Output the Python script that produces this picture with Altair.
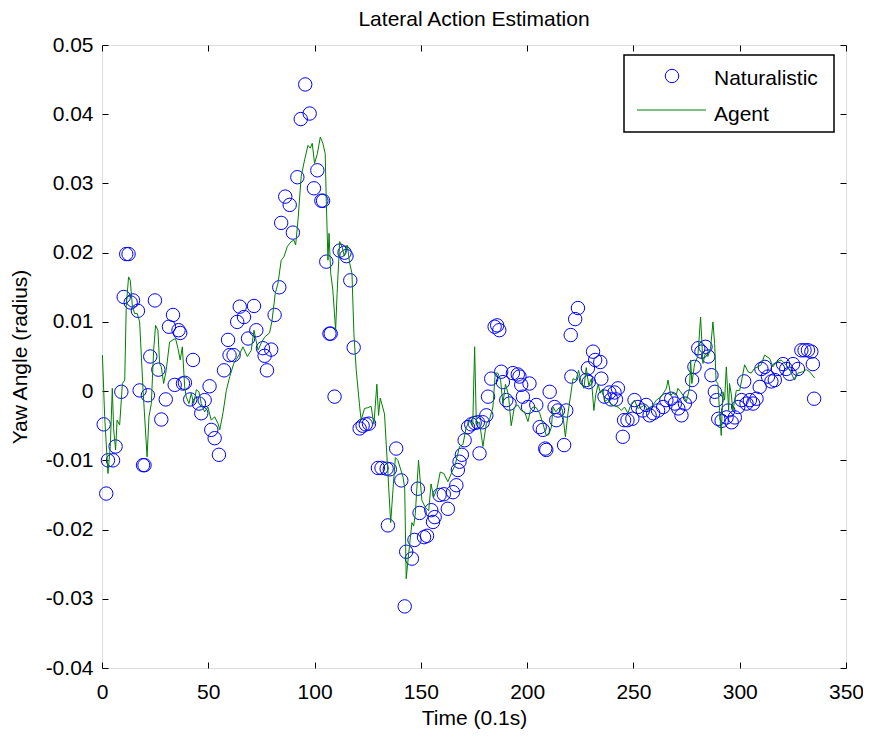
import altair as alt
import pandas as pd

# ---------------- data ----------------
nat_t = [0.8, 2.0, 2.8, 5.2, 6.4, 9.1, 10.2, 11.4, 12.5, 13.5, 14.6, 16.9, 17.7, 19.3, 20.0,
         21.6, 22.7, 24.9, 26.5, 27.9, 30.0, 31.5, 33.4, 34.2, 36.0, 36.8, 38.1, 39.0, 41.5,
         42.8, 45.6, 46.7, 48.3, 50.6, 51.4, 53.0, 55.0, 57.4, 59.3, 60.0, 61.9, 63.6, 64.8,
         66.8, 68.7, 71.5, 72.6, 75.7, 76.5, 77.6, 79.6, 81.2, 83.4, 84.3, 86.2, 88.3, 89.8,
         91.9, 93.5, 95.6, 97.7, 99.7, 101.3, 103.2, 104.0, 105.5, 107.0, 107.6, 109.4, 111.8,
         114.1, 115.0, 116.8, 118.4, 121.2, 122.6, 124.1, 125.6, 129.8, 131.5, 133.9, 134.5,
         135.4, 138.4, 140.8, 142.4, 143.1, 145.8, 147.0, 148.6, 149.4, 151.5, 152.9, 154.9,
         155.7, 156.5, 158.8, 160.8, 162.7, 165.1, 166.7, 167.4, 168.2, 169.3, 170.6, 172.2,
         173.7, 175.3, 176.8, 177.6, 179.1, 180.8, 181.6, 183.1, 184.7, 185.9, 186.9, 187.8,
         188.6, 190.2, 191.7, 193.3, 195.6, 196.4, 197.2, 198.0, 200.4, 201.1, 204.3, 205.9,
         207.4, 208.5, 209.0, 210.6, 212.9, 213.7, 214.5, 217.4, 218.4, 220.8, 220.5, 222.6,
         223.9, 227.8, 228.6, 229.0, 231.0, 232.0, 234.4, 234.9, 236.4, 238.7, 239.5, 241.1,
         241.8, 242.7, 245.0, 245.6, 247.2, 249.5, 250.5, 252.1, 254.4, 256.0, 257.6, 259.3,
         261.6, 264.0, 265.5, 267.8, 269.5, 271.1, 272.6, 274.2, 276.6, 277.6, 278.7, 280.5,
         282.0, 283.9, 285.2, 286.7, 288.3, 289.1, 289.9, 291.5, 293.8, 294.6, 296.2, 297.7,
         299.3, 300.9, 302.1, 303.2, 304.8, 306.3, 307.9, 309.4, 310.2, 311.8, 313.3, 314.9,
         316.5, 318.0, 320.4, 321.9, 323.5, 325.1, 327.4, 329.0, 330.5, 332.1, 333.7, 334.4,
         335.0]
nat_y = [-0.0048, -0.0148, -0.0100, -0.0100, -0.0080, -0.0001, 0.0136, 0.0198, 0.0198, 0.0128,
         0.0131, 0.0116, 0.0001, -0.0107, -0.0107, -0.0006, 0.0050, 0.0131, 0.0031, -0.0041,
         -0.0012, 0.0093, 0.0110, 0.0009, 0.0088, 0.0084, 0.0011, 0.0012, -0.0012, 0.0045,
         -0.0018, -0.0032, -0.0013, 0.0007, -0.0056, -0.0068, -0.0092, 0.0030, 0.0074, 0.0052,
         0.0052, 0.0100, 0.0122, 0.0107, 0.0076, 0.0123, 0.0088, 0.0062, 0.0051, 0.0030,
         0.0060, 0.0110, 0.0150, 0.0243, 0.0281, 0.0269, 0.0229, 0.0309, 0.0393, 0.0443,
         0.0401, 0.0293, 0.0319, 0.0275, 0.0275, 0.0187, 0.0083, 0.0083, -0.0008, 0.0203,
         0.0200, 0.0195, 0.0160, 0.0063, -0.0054, -0.0050, -0.0048, -0.0047, -0.0111, -0.0111,
         -0.0112, -0.0194, -0.0113, -0.0083, -0.0129, -0.0311, -0.0232, -0.0242, -0.0215,
         -0.0141, -0.0176, -0.0211, -0.0209, -0.0172, -0.0189, -0.0182, -0.0150, -0.0149,
         -0.0170, -0.0146, -0.0136, -0.0114, -0.0102, -0.0092, -0.0071, -0.0052, -0.0048,
         -0.0046, -0.0045, -0.0090, -0.0045, -0.0035, -0.0008, 0.0018, 0.0093, 0.0095, 0.0088,
         0.0028, 0.0013, -0.0013, -0.0018, 0.0026, 0.0024, 0.0021, 0.0009, -0.0008, -0.0023,
         0.0011, -0.0020, -0.0052, -0.0056, -0.0083, -0.0085, -0.0001, -0.0023, -0.0042,
         -0.0028, -0.0078, -0.0028, 0.0021, 0.0081, 0.0104, 0.0120, 0.0016, 0.0033, 0.0013,
         0.0057, 0.0045, 0.0042, 0.0018, -0.0008, -0.0002, -0.0012, -0.0002, -0.0012, 0.0004,
         -0.0066, -0.0042, -0.0042, -0.0040, -0.0013, -0.0023, -0.0028, -0.0020, -0.0035,
         -0.0032, -0.0028, -0.0023, -0.0013, -0.0011, -0.0018, -0.0025, -0.0035, -0.0018,
         -0.0008, 0.0016, 0.0035, 0.0062, 0.0057, 0.0064, 0.0050, 0.0023, -0.0001, -0.0013,
         -0.0040, -0.0043, -0.0038, -0.0028, -0.0045, -0.0038, -0.0023, -0.0013, 0.0014,
         -0.0018, -0.0013, -0.0018, -0.0011, 0.0006, 0.0032, 0.0035, 0.0021, 0.0014, 0.0016,
         0.0032, 0.0039, 0.0032, 0.0025, 0.0039, 0.0032, 0.0059, 0.0059, 0.0059, 0.0057,
         0.0039, -0.0011]

agent_t = [0.2, 1.25, 2.8, 3.9, 4.85, 5.5, 6.4, 7.1, 8.3, 9.6, 10.7, 11.4, 12.5, 13.3, 14.3,
           15.4, 16.6, 17.7, 19.3, 21.2, 22.1, 23.2, 24.3, 25.2, 26.3, 27.1, 27.9, 29.0, 30.2,
           31.8, 33.4, 34.6, 35.7, 36.8, 37.8, 38.9, 39.6, 40.9, 42.0, 43.1, 44.4, 45.6, 46.7,
           48.3, 49.8, 51.4, 53.0, 54.6, 55.4, 57.0, 58.5, 60.1, 62.0, 64.8, 66.3, 68.4, 70.2,
           71.5, 73.4, 75.0, 76.5, 78.8, 79.9, 81.5, 82.8, 84.3, 85.6, 87.2, 89.0, 90.3, 91.1,
           92.2, 93.7, 95.3, 96.9, 98.0, 98.9, 100.0, 101.3, 102.7, 103.9, 105.0, 105.5, 106.3,
           106.8, 107.6, 108.6, 109.9, 110.6, 111.8, 112.9, 114.0, 115.4, 116.5, 117.6, 118.5,
           119.6, 121.2, 121.9, 123.5, 125.0, 126.6, 127.9, 129.3, 130.1, 130.9, 132.9, 134.5,
           135.8, 136.9, 138.0, 139.2, 141.6, 142.4, 143.1, 144.6, 145.8, 146.6, 147.4, 148.9,
           150.5, 152.1, 153.7, 154.8, 156.0, 157.6, 159.1, 160.8, 162.7, 165.0, 166.1, 168.2,
           169.8, 171.3, 172.9, 174.4, 175.3, 176.1, 177.6, 179.2, 180.8, 182.4, 183.9, 185.0,
           186.2, 187.5, 188.6, 189.8, 191.2, 192.5, 194.0, 195.6, 197.2, 198.8, 200.4, 201.5,
           202.7, 204.3, 205.9, 207.4, 209.0, 210.2, 211.4, 212.2, 213.5, 215.0, 216.5, 218.0,
           219.2, 221.6, 223.0, 224.2, 225.5, 226.7, 227.8, 229.0, 230.2, 231.4, 232.3, 233.4,
           234.5, 235.5, 236.4, 238.0, 239.6, 241.1, 242.7, 244.3, 245.8, 247.4, 249.0, 250.5,
           252.1, 253.7, 255.3, 256.8, 258.4, 260.8, 263.1, 265.5, 266.3, 267.5, 268.6, 270.1,
           270.9, 272.2, 273.3, 274.9, 276.4, 276.9, 277.5, 278.8, 280.3, 281.6, 282.7, 283.8,
           285.0, 286.3, 287.4, 288.2, 288.9, 289.7, 290.5, 291.3, 292.1, 292.9, 293.7, 294.8,
           295.2, 296.0, 296.8, 298.4, 300.0, 302.3, 303.9, 305.4, 307.0, 308.6, 310.1, 311.7,
           314.1, 315.6, 317.3, 319.5, 321.1, 322.7, 324.2, 325.8, 327.4, 329.7, 331.3, 332.9,
           335.2]
agent_y = [0.0052, -0.0037, -0.0119, -0.0080, 0.0004, -0.0056, -0.0085, -0.0042, -0.0049,
           0.0011, 0.0016, 0.0122, 0.0165, 0.0160, 0.0122, 0.0112, 0.0112, 0.0100, 0.0002,
           -0.0095, -0.0037, -0.0018, 0.0059, 0.0095, 0.0088, 0.0040, 0.0035, 0.0011, 0.0030,
           0.0071, 0.0074, 0.0076, 0.0062, 0.0045, 0.0064, 0.0006, -0.0008, -0.0018, -0.0003,
           -0.0018, 0.0002, -0.0001, -0.0018, -0.0030, -0.0023, -0.0042, -0.0037, -0.0047,
           -0.0056, -0.0030, 0.0001, 0.0021, 0.0040, 0.0054, 0.0064, 0.0050, 0.0059, 0.0088,
           0.0059, 0.0070, 0.0078, 0.0084, 0.0100, 0.0141, 0.0156, 0.0189, 0.0194, 0.0209,
           0.0216, 0.0218, 0.0211, 0.0247, 0.0310, 0.0334, 0.0355, 0.0351, 0.0358, 0.0329,
           0.0343, 0.0367, 0.0358, 0.0343, 0.0276, 0.0189, 0.0228, 0.0170, 0.0146, 0.0088,
           0.0141, 0.0216, 0.0209, 0.0195, 0.0211, 0.0185, 0.0170, 0.0083, 0.0030, -0.0022,
           -0.0042, -0.0025, -0.0024, -0.0022, -0.0048, 0.0010, -0.0035, -0.0010, -0.0033,
           -0.0119, -0.0190, -0.0142, -0.0096, -0.0100, -0.0124, -0.0140, -0.0271, -0.0225,
           -0.0190, -0.0195, -0.0177, -0.0100, -0.0158, -0.0168, -0.0173, -0.0134, -0.0153,
           -0.0141, -0.0117, -0.0119, -0.0131, -0.0114, -0.0107, -0.0080, -0.0077, -0.0053,
           -0.0043, -0.0050, 0.0064, -0.0047, -0.0045, -0.0080, -0.0047, -0.0040, -0.0023,
           0.0026, 0.0026, 0.0016, -0.0018, 0.0010, -0.0005, -0.0050, -0.0023, -0.0020,
           -0.0028, -0.0030, -0.0044, -0.0028, -0.0023, -0.0024, -0.0032, -0.0047, -0.0064,
           -0.0063, -0.0052, -0.0023, -0.0030, -0.0024, -0.0026, -0.0066, -0.0032, 0.0018,
           0.0016, 0.0030, 0.0012, 0.0004, 0.0034, 0.0008, 0.0018, -0.0028, -0.0005, 0.0010,
           -0.0003, 0.0003, -0.0015, -0.0012, -0.0020, -0.0021, -0.0023, -0.0028, -0.0023,
           -0.0032, -0.0018, -0.0013, -0.0025, -0.0023, -0.0020, -0.0028, -0.0023, -0.0013,
           -0.0008, 0.0004, 0.0016, -0.0006, -0.0003, -0.0006, 0.0004, -0.0001, -0.0006,
           -0.0015, 0.0004, 0.0045, 0.0011, 0.0040, 0.0050, 0.0107, 0.0040, 0.0054, 0.0050,
           0.0062, 0.0100, 0.0069, 0.0014, 0.0011, -0.0028, -0.0064, -0.0001, -0.0013, 0.0035,
           -0.0028, 0.0011, -0.0004, -0.0028, 0.0001, 0.0001, 0.0038, 0.0028, 0.0026, 0.0033,
           0.0035, 0.0038, 0.0052, 0.0047, 0.0035, 0.0042, 0.0045, 0.0040, 0.0035, 0.0026,
           0.0016, 0.0026, 0.0028, 0.0031, 0.0028, 0.0019]

x_ticks = [0, 50, 100, 150, 200, 250, 300, 350]
y_ticks = [-0.04, -0.03, -0.02, -0.01, 0, 0.01, 0.02, 0.03, 0.04, 0.05]
legend_labels = ["Naturalistic", "Agent"]

FONT = "Liberation Sans"
FS = 21
W, H = 744, 623

nat = pd.DataFrame({"t": nat_t, "y": nat_y})
agent = pd.DataFrame({"t": agent_t, "y": agent_y})

xscale = alt.Scale(domain=[0, 350], nice=False, zero=False)
yscale = alt.Scale(domain=[-0.04, 0.05], nice=False, zero=False)
ylabel_expr = "datum.value == 0 ? '0' : toString(round(datum.value*100)/100)"

common_axis = dict(domain=False, grid=False, tickSize=6, offset=-6, tickColor="black",
                   tickWidth=1, labelFont=FONT, labelFontSize=FS, labelColor="black",
                   titleFont=FONT, titleFontSize=FS, titleFontWeight="normal",
                   titleColor="black", labelFlush=False, labelOverlap=False)

points = alt.Chart(nat).mark_point(shape="circle", filled=False, color="#0000FF",
                                   size=180, strokeWidth=1, opacity=1).encode(
    x=alt.X("t:Q", scale=xscale,
            axis=alt.Axis(orient="bottom", values=x_ticks, title="Time (0.1s)",
                          labelPadding=13, titlePadding=5, **common_axis)),
    y=alt.Y("y:Q", scale=yscale,
            axis=alt.Axis(orient="left", values=y_ticks, title="Yaw Angle (radius)",
                          labelExpr=ylabel_expr, labelPadding=9, titlePadding=15,
                          **common_axis)),
)

line = alt.Chart(agent).mark_line(color="#008000", strokeWidth=1).encode(
    x=alt.X("t:Q", scale=xscale,
            axis=alt.Axis(orient="top", values=x_ticks, labels=False, title=None,
                          **common_axis)),
    y=alt.Y("y:Q", scale=yscale,
            axis=alt.Axis(orient="right", values=y_ticks, labels=False, title=None,
                          **common_axis)),
    order="t:Q",
)

# ---- legend (drawn as decoration) ----
one = pd.DataFrame({"k": [0]})
lg_box = alt.Chart(one).mark_rect(fill="white", stroke="black", strokeWidth=1.5).encode(
    x=alt.value(522), x2=alt.value(732), y=alt.value(10), y2=alt.value(87))
lg_sym = alt.Chart(one).mark_point(shape="circle", filled=False, color="#0000FF",
                                   size=180, strokeWidth=1, opacity=1).encode(
    x=alt.value(570), y=alt.value(31))
lg_line = alt.Chart(one).mark_rule(color="#008000", strokeWidth=1).encode(
    x=alt.value(535), x2=alt.value(604), y=alt.value(65))
lg_txt1 = alt.Chart(one).mark_text(align="left", baseline="alphabetic", font=FONT,
                                   fontSize=FS, color="black").encode(
    x=alt.value(612), y=alt.value(40), text=alt.value(legend_labels[0]))
lg_txt2 = alt.Chart(one).mark_text(align="left", baseline="alphabetic", font=FONT,
                                   fontSize=FS, color="black").encode(
    x=alt.value(612), y=alt.value(76), text=alt.value(legend_labels[1]))

chart = alt.layer(points, line, lg_box, lg_sym, lg_line, lg_txt1, lg_txt2).resolve_axis(
    x="independent", y="independent"
).properties(
    width=W, height=H,
    title=alt.TitleParams("Lateral Action Estimation", font=FONT, fontSize=FS,
                          fontWeight="normal", color="black", offset=4),
    padding={"left": 94, "top": 37, "right": 17, "bottom": 62},
    autosize=alt.AutoSizeParams(type="none"),
).configure_view(stroke="black", strokeWidth=1.5).configure(background="white")

chart.save("out.html", embed_options={"renderer": "svg", "actions": False})
